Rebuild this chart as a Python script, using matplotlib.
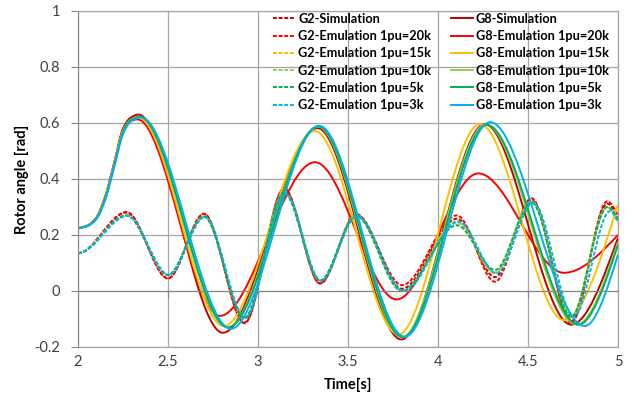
import numpy as np
import matplotlib
matplotlib.use("Agg")
import matplotlib.pyplot as plt
from matplotlib.path import Path
from matplotlib.patches import PathPatch
from matplotlib.lines import Line2D

plt.rcParams['font.family'] = ['Lato', 'DejaVu Sans']

# ------------------------------------------------------------
# data: rotor angle [rad] key points
# ------------------------------------------------------------
LABELS = ["Simulation", "Emulation 1pu=20k", "Emulation 1pu=15k",
          "Emulation 1pu=10k", "Emulation 1pu=5k", "Emulation 1pu=3k"]
COLORS = ["#C00000", "#FF0000", "#FFC000", "#92D050", "#00B050", "#00B0F0"]

# G8 (solid)
g8_sim_t = [2.0, 2.05, 2.1, 2.15, 2.2, 2.25, 2.29, 2.335, 2.805, 3.33, 3.796, 4.26, 4.74, 5.0]
g8_sim_y = [0.225, 0.233, 0.26, 0.335, 0.455, 0.58, 0.618, 0.63, -0.149, 0.582, -0.173, 0.596, -0.12, 0.19]
g8_20k_t = [2.0, 2.05, 2.1, 2.15, 2.2, 2.25, 2.29, 2.33, 2.787, 3.317, 3.77, 4.224, 4.70, 5.0]
g8_20k_y = [0.225, 0.233, 0.26, 0.335, 0.452, 0.572, 0.606, 0.613, -0.089, 0.46, -0.03, 0.42, 0.065, 0.20]
g8_15k_t = [2.0, 2.05, 2.1, 2.15, 2.2, 2.25, 2.29, 2.335, 2.81, 3.315, 3.78, 4.233, 4.70, 5.0]
g8_15k_y = [0.225, 0.233, 0.259, 0.332, 0.45, 0.572, 0.61, 0.62, -0.125, 0.571, -0.155, 0.596, -0.104, 0.31]
g8_10k_t = [2.0, 2.05, 2.1, 2.15, 2.2, 2.25, 2.29, 2.34, 2.83, 3.333, 3.80, 4.265, 4.77, 5.0]
g8_10k_y = [0.225, 0.232, 0.258, 0.33, 0.447, 0.568, 0.61, 0.622, -0.13, 0.587, -0.165, 0.595, -0.12, 0.175]
g8_5k_t = [2.0, 2.05, 2.1, 2.15, 2.2, 2.25, 2.29, 2.342, 2.835, 3.336, 3.805, 4.272, 4.78, 5.0]
g8_5k_y = [0.225, 0.232, 0.257, 0.328, 0.445, 0.566, 0.609, 0.622, -0.13, 0.588, -0.165, 0.593, -0.12, 0.165]
g8_3k_t = [2.0, 2.05, 2.1, 2.15, 2.2, 2.25, 2.29, 2.35, 2.85, 3.34, 3.815, 4.29, 4.815, 5.0]
g8_3k_y = [0.225, 0.231, 0.255, 0.323, 0.44, 0.56, 0.603, 0.62, -0.135, 0.59, -0.163, 0.603, -0.125, 0.13]

# G2 (dashed)
g2_t = [2.0, 2.27, 2.50, 2.70, 2.925, 3.145, 3.345, 3.545, 3.80, 4.105, 4.317, 4.52, 4.74, 4.94, 5.0]
g2_sim_y = [0.135, 0.282, 0.045, 0.276, -0.115, 0.367, 0.027, 0.272, 0.008, 0.258, 0.05, 0.325, -0.108, 0.312, 0.265]
g2_20k_y = [0.135, 0.28, 0.045, 0.275, -0.112, 0.365, 0.027, 0.275, 0.021, 0.27, 0.033, 0.331, -0.115, 0.32, 0.27]
g2_15k_y = [0.135, 0.27, 0.057, 0.266, -0.097, 0.352, 0.037, 0.27, 0.0, 0.25, 0.063, 0.32, -0.092, 0.30, 0.25]
g2_10k_y = [0.135, 0.27, 0.057, 0.266, -0.097, 0.352, 0.037, 0.27, 0.0, 0.245, 0.066, 0.32, -0.092, 0.30, 0.255]
g2_5k_y = [0.135, 0.27, 0.057, 0.266, -0.097, 0.352, 0.037, 0.268, 0.0, 0.235, 0.075, 0.315, -0.092, 0.30, 0.255]
g2_3k_t = [2.0, 2.275, 2.505, 2.705, 2.93, 3.15, 3.35, 3.55, 3.81, 4.115, 4.325, 4.53, 4.755, 4.955, 5.0]
g2_3k_y = [0.135, 0.268, 0.058, 0.265, -0.095, 0.35, 0.037, 0.268, 0.0, 0.248, 0.063, 0.315, -0.092, 0.285, 0.245]

X_TICKS = [2, 2.5, 3, 3.5, 4, 4.5, 5]
X_TICK_LABELS = ["2", "2.5", "3", "3.5", "4", "4.5", "5"]
Y_TICKS = [-0.2, 0, 0.2, 0.4, 0.6, 0.8, 1]
Y_TICK_LABELS = ["-0.2", "0", "0.2", "0.4", "0.6", "0.8", "1"]

G2_SERIES = [(g2_t, g2_sim_y), (g2_t, g2_20k_y), (g2_t, g2_15k_y),
             (g2_t, g2_10k_y), (g2_t, g2_5k_y), (g2_3k_t, g2_3k_y)]
G8_SERIES = [(g8_sim_t, g8_sim_y), (g8_20k_t, g8_20k_y), (g8_15k_t, g8_15k_y),
             (g8_10k_t, g8_10k_y), (g8_5k_t, g8_5k_y), (g8_3k_t, g8_3k_y)]

LW = 1.4
DASH = (0, (2.0, 0.9))
GRID = "#A6A6A6"
AXIS = "#868686"


def smooth_path(t, y):
    """Excel-like smoothed line: monotone cubic bezier through the points."""
    t = np.asarray(t, float)
    y = np.asarray(y, float)
    h = np.diff(t)
    d = np.diff(y) / h
    m = np.zeros_like(y)
    for i in range(1, len(y) - 1):
        if d[i - 1] * d[i] > 0:
            w1 = 2 * h[i] + h[i - 1]
            w2 = h[i] + 2 * h[i - 1]
            m[i] = (w1 + w2) / (w1 / d[i - 1] + w2 / d[i])
    m[-1] = 1.5 * d[-1]
    verts = [(t[0], y[0])]
    for i in range(len(h)):
        verts += [(t[i] + h[i] / 3, y[i] + m[i] * h[i] / 3),
                  (t[i + 1] - h[i] / 3, y[i + 1] - m[i + 1] * h[i] / 3),
                  (t[i + 1], y[i + 1])]
    codes = [Path.MOVETO] + [Path.CURVE4] * (3 * len(h))
    return Path(verts, codes)


fig = plt.figure(figsize=(6.36, 3.99), dpi=100)
ax = fig.add_axes([78 / 636, 1 - 347 / 399, 540 / 636, 336 / 399])
ax.set_xlim(2, 5)
ax.set_ylim(-0.2, 1)

# series drawn in Excel order: G2, G8 interleaved
for k in range(6):
    for (t, y), ls in ((G2_SERIES[k], DASH), (G8_SERIES[k], "-")):
        ax.add_patch(PathPatch(smooth_path(t, y), fill=False, edgecolor=COLORS[k],
                               lw=LW, linestyle=ls, capstyle="butt", joinstyle="round"))

# grid and axes
ax.set_xticks(X_TICKS)
ax.set_yticks(Y_TICKS)
ax.set_yticklabels(Y_TICK_LABELS)
ax.grid(True, color=GRID, lw=0.9)
ax.set_axisbelow(True)
for s in ("top", "right"):
    ax.spines[s].set_color(GRID)
    ax.spines[s].set_linewidth(0.9)
ax.spines["left"].set_color(AXIS)
ax.spines["bottom"].set_position(("data", 0))
ax.spines["bottom"].set_color(AXIS)
ax.tick_params(axis="x", direction="out", length=5, color=AXIS, labelbottom=False)
ax.tick_params(axis="y", direction="out", length=5, color=AXIS,
               labelsize=10.5, labelcolor="#404040", pad=8)

sec = ax.secondary_xaxis("bottom")
sec.set_xticks(X_TICKS)
sec.set_xticklabels(X_TICK_LABELS)
sec.spines["bottom"].set_color(GRID)
sec.spines["bottom"].set_linewidth(0.9)
sec.tick_params(length=0, labelsize=10.5, labelcolor="#404040", pad=6)
sec.set_xlabel("Time[s]", fontsize=10.5, fontweight="bold", labelpad=6)
ax.set_ylabel("Rotor angle [rad]", fontsize=10.5, fontweight="bold", labelpad=4)

# legend: G2 column then G8 column
handles = [Line2D([], [], color=c, lw=LW, linestyle=DASH) for c in COLORS]
handles += [Line2D([], [], color=c, lw=LW) for c in COLORS]
names = ["G2-" + n for n in LABELS] + ["G8-" + n for n in LABELS]
ax.legend(handles, names, ncol=2, loc="upper left", bbox_to_anchor=(0.358, 1.0),
          frameon=False, prop={"weight": "bold", "size": 9.2},
          handlelength=1.72, handletextpad=0.25, columnspacing=1.5,
          labelspacing=0.41, borderpad=0.15, borderaxespad=0)

fig.savefig("out.png", dpi=100, facecolor="white")
